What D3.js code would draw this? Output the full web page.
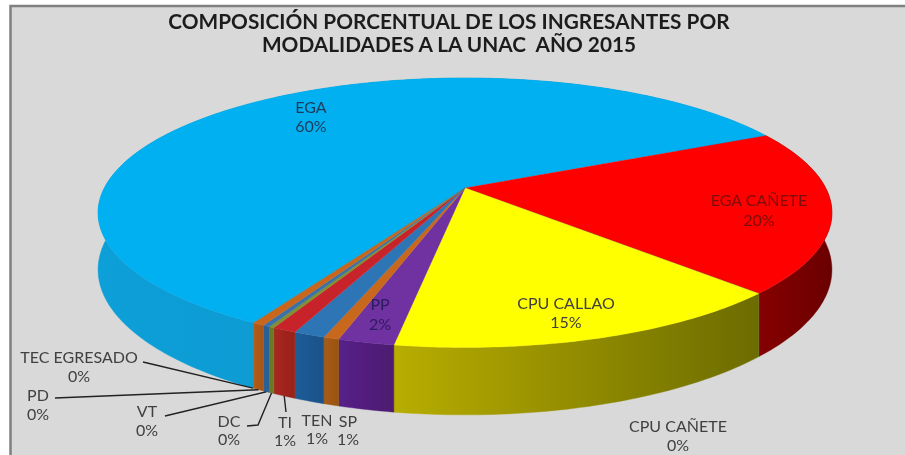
<!DOCTYPE html>
<html><head><meta charset="utf-8">
<script src="https://cdn.jsdelivr.net/npm/d3@7/dist/d3.min.js"></script>
<style>html,body{margin:0;padding:0;background:#fff}svg{display:block}</style>
</head><body><svg id="c" width="905" height="455"></svg>
<script>
const categories = ["EGA","EGA CAÑETE","CPU CAÑETE","CPU CALLAO","PP","SP","TEN","TI","DC","VT","PD","TEC EGRESADO"];
const values = [59.6,19.6,0.03,15.1,2.08,0.58,1.17,0.89,0.2,0.25,0.45,0.05];
const topColors = ["#00B0F0","#FF0000","#8a9a3a","#FFFF00","#7030A0","#C8681E","#2E75B6","#C8242A","#7F8F30","#3A70A8","#C8661E","#00A0D8"];
const sideLeft = ["#0a9fd8","#860000","#6a7a20","#b8ad00","#552088","#a85c14","#1f5c98","#a82822","#6a7a20","#2a6098","#b05c18","#0090c8"];
const sideRight = ["#0090c4","#6a0000","#6a7a20","#6c6c00","#4e1e70","#9a5410","#1c5288","#982018","#6a7a20","#2a6098","#a85414","#0090c8"];
const titleLines = ["COMPOSICIÓN PORCENTUAL DE LOS INGRESANTES POR","MODALIDADES A LA UNAC  AÑO 2015"];

const W=905,H=455;
const svg=d3.select("#c");
const defs=svg.append("defs");
defs.append("filter").attr("id","soft").attr("x","-5%").attr("y","-5%").attr("width","110%").attr("height","110%")
  .append("feGaussianBlur").attr("stdDeviation",0.7);

// frame: open on the right and at the bottom, where the picture is cut off
svg.append("rect").attr("x",10.5).attr("y",6).attr("width",W).attr("height",H)
  .attr("fill","#D9D9D9").attr("stroke","#808080").attr("stroke-width",2.5);

const root=svg.append("g").attr("filter","url(#soft)");

// perspective projection of the pie disc
const cx=465,cy=188,a=360.7,b=130.2,k=0.1837,T=55;
const proj=(t)=>{const d=1+k*Math.cos(t);return [cx+a*Math.sin(t)/d, cy-b*Math.cos(t)/d];};
const drop=(t)=>T/(1+k*Math.cos(t));
const low=(t)=>{const p=proj(t);return [p[0],p[1]+drop(t)];};

const deg=Math.PI/180, start=209.7*deg;
const pie=d3.pie().sort(null).startAngle(start).endAngle(start+2*Math.PI);
const arcs=pie(values).map((d,i)=>({...d,i,name:categories[i],mid:(d.startAngle+d.endAngle)/2}));
const line=d3.line();
const samples=(d)=>{const n=Math.max(2,Math.ceil((d.endAngle-d.startAngle)/deg));return d3.range(n+1).map(j=>d.startAngle+(d.endAngle-d.startAngle)*j/n);};

// sides (front rim only is visible, the top hides the others)
const sideG=root.append("g");
arcs.forEach(d=>{
  const ts=samples(d), up=ts.map(proj), dn=ts.map(low).reverse();
  const xs=up.map(p=>p[0]);
  const id="sg"+d.i;
  const g=defs.append("linearGradient").attr("id",id).attr("gradientUnits","userSpaceOnUse")
    .attr("x1",d3.min(xs)).attr("x2",Math.max(d3.max(xs),d3.min(xs)+1)).attr("y1",0).attr("y2",0);
  g.append("stop").attr("offset",0).attr("stop-color",sideLeft[d.i]);
  g.append("stop").attr("offset",1).attr("stop-color",sideRight[d.i]);
  sideG.append("path").attr("d",line(up.concat(dn))+"Z").attr("fill",`url(#${id})`).attr("stroke",`url(#${id})`).attr("stroke-width",0.4);
});

// top surface
root.append("g").selectAll("path").data(arcs).join("path")
  .attr("d",d=>line([[cx,cy]].concat(samples(d).map(proj)))+"Z")
  .attr("fill",d=>topColors[d.i]).attr("stroke",d=>topColors[d.i]).attr("stroke-width",0.3);

// title
const title=root.append("g").attr("text-anchor","middle").attr("font-family","Lato").attr("font-weight",700).attr("font-size",20.8).attr("fill","#1f1f1f");
title.selectAll("text").data(titleLines).join("text")
  .attr("x",449).attr("y",(d,i)=>29+i*23).style("white-space","pre").text(d=>d);

// data labels
const labelPos=[[311,108,19],[759,201,20],[678,427,19],[566,304,19],[380,305,20],[348,422,18],[317,421,18],[285,423,18],[229,422,18],[147,412,19],[38,396,19],[79,358,19]];
const labelFill=["#1f3a5a","#7a0a0a","#404040","#404040","#2f1a60","#404040","#404040","#404040","#404040","#404040","#404040","#404040"];
const fmt=v=>Math.round(v*100/d3.sum(values))+"%";
const lab=root.append("g").attr("text-anchor","middle").attr("font-family","Lato").attr("font-size",16);
arcs.forEach(d=>{
  const p=labelPos[d.i];
  const g=lab.append("g").attr("fill",labelFill[d.i]);
  g.append("text").attr("x",p[0]).attr("y",p[1]+5).text(d.name);
  g.append("text").attr("x",p[0]).attr("y",p[1]+5+p[2]).text(fmt(d.data));
});

// leader lines
const leaderFrom={"TEC EGRESADO":[[143,362]],"PD":[[55,398]],"VT":[[165,416]],"DC":[[247,426],[258,425]],"TI":[[286,412]]};
const lg=root.append("g").attr("fill","none").attr("stroke","#222").attr("stroke-width",1.4);
arcs.filter(d=>leaderFrom[d.name]).forEach(d=>{
  lg.append("path").attr("d",line(leaderFrom[d.name].concat([low(d.mid)])));
});
</script></body></html>
